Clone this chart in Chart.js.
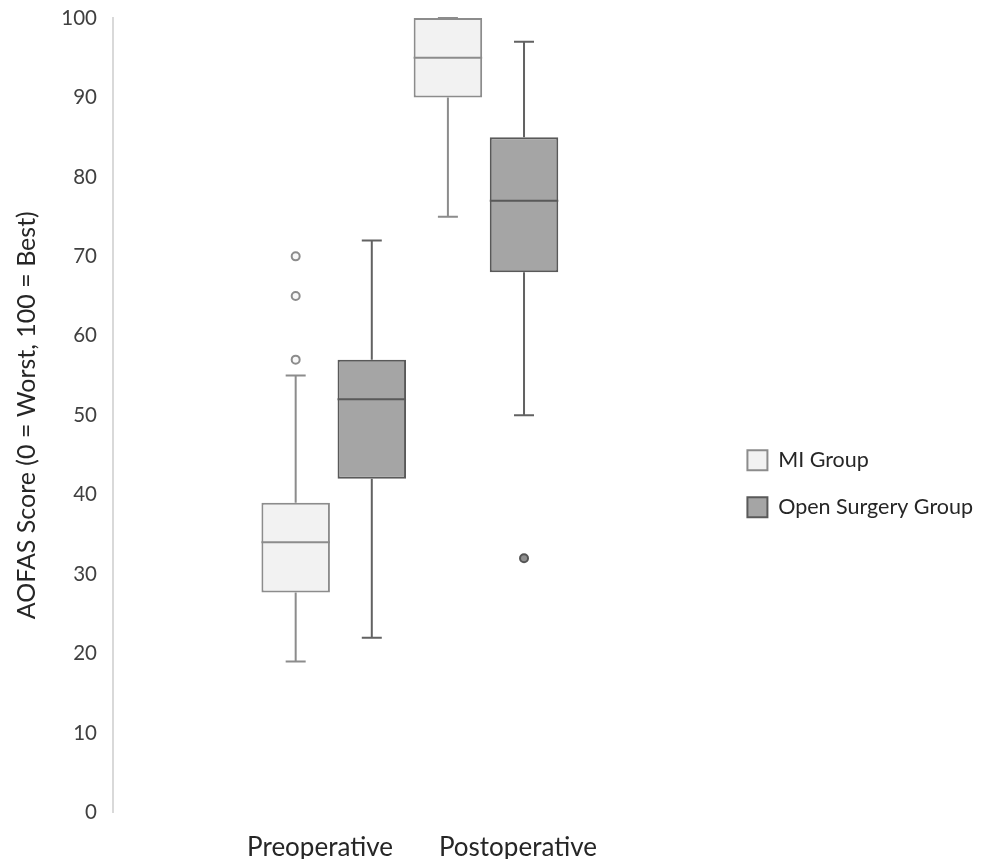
<!DOCTYPE html>
<html><head><meta charset="utf-8">
<script src="https://cdn.jsdelivr.net/npm/chart.js@4.4.1/dist/chart.umd.min.js"></script>
<style>html,body{margin:0;padding:0;background:#fff;}</style>
</head><body>
<canvas id="c" width="989" height="859"></canvas>
<script>
// ---- data ----
const categories = ['Preoperative', 'Postoperative'];
const seriesNames = ['MI Group', 'Open Surgery Group'];

const miMin      = [19, 75];
const miQ1       = [27.7, 90];
const miMedian   = [34, 95];
const miQ3       = [39, 100];
const miMax      = [55, 100];
const miOutliers = [[57, 65, 70], []];

const openMin      = [22, 50];
const openQ1       = [42, 68];
const openMedian   = [52, 77];
const openQ3       = [57, 85];
const openMax      = [72, 97];
const openOutliers = [[], [32]];

const yTickValues = [0, 10, 20, 30, 40, 50, 60, 70, 80, 90, 100];

// ---- styling ----
const FONT = 'Lato, "Open Sans", sans-serif';
const labelShift = [-0.09, 0.21];   // cosmetic shift of category labels
const nSeries = 2;
const groupOffset = k => (k + 0.5) / nSeries - 0.5;

function boxData(q1, q3) { return categories.map((c, i) => ({ x: i, y: [q1[i], q3[i]] })); }
function outlierData(list, k) {
  const pts = [];
  list.forEach((vals, i) => vals.forEach(v => pts.push({ x: i + groupOffset(k), y: v })));
  return pts;
}

const boxPlugin = {
  id: 'boxWhiskers',
  afterDatasetsDraw(chart) {
    const ys = chart.scales.y, ctx = chart.ctx;
    chart.data.datasets.forEach((ds, di) => {
      if (!ds.stats) return;
      const meta = chart.getDatasetMeta(di);
      meta.data.forEach((bar, i) => {
        const { x, width } = bar.getProps(['x', 'width'], true);
        const pMin = ys.getPixelForValue(ds.stats.min[i]);
        const pMax = ys.getPixelForValue(ds.stats.max[i]);
        const pMed = ys.getPixelForValue(ds.stats.med[i]);
        const pQ1 = ys.getPixelForValue(ds.data[i].y[0]);
        const pQ3 = ys.getPixelForValue(ds.data[i].y[1]);
        const cap = 10;
        ctx.save();
        ctx.strokeStyle = ds.whiskerColor;
        ctx.lineWidth = 2;
        ctx.beginPath();
        ctx.moveTo(x, pQ3); ctx.lineTo(x, pMax);
        ctx.moveTo(x - cap, pMax); ctx.lineTo(x + cap, pMax);
        ctx.moveTo(x, pQ1); ctx.lineTo(x, pMin);
        ctx.moveTo(x - cap, pMin); ctx.lineTo(x + cap, pMin);
        ctx.stroke();
        ctx.beginPath();
        ctx.strokeStyle = ds.borderColor;
        ctx.moveTo(x - width / 2, pMed); ctx.lineTo(x + width / 2, pMed);
        ctx.stroke();
        ctx.restore();
      });
    });
  }
};

new Chart(document.getElementById('c'), {
  type: 'bar',
  data: {
    datasets: [
      { label: seriesNames[0], data: boxData(miQ1, miQ3),
        stats: { min: miMin, med: miMedian, max: miMax },
        backgroundColor: '#f2f2f2', borderColor: '#8c8c8c', whiskerColor: '#8c8c8c',
        borderWidth: 2, borderSkipped: false,
        categoryPercentage: 1, barPercentage: 0.9 },
      { label: seriesNames[1], data: boxData(openQ1, openQ3),
        stats: { min: openMin, med: openMedian, max: openMax },
        backgroundColor: '#a5a5a5', borderColor: '#595959', whiskerColor: '#626262',
        borderWidth: 2, borderSkipped: false,
        categoryPercentage: 1, barPercentage: 0.9 },
      { type: 'scatter', label: seriesNames[0] + ' outliers', data: outlierData(miOutliers, 0),
        pointRadius: 4, pointBackgroundColor: '#f8f8f8', pointBorderColor: '#8c8c8c', pointBorderWidth: 2 },
      { type: 'scatter', label: seriesNames[1] + ' outliers', data: outlierData(openOutliers, 1),
        pointRadius: 4, pointBackgroundColor: '#8f8f8f', pointBorderColor: '#555555', pointBorderWidth: 2 }
    ]
  },
  options: {
    responsive: false,
    animation: false,
    events: [],
    layout: { padding: { left: 12, top: 18, right: 6, bottom: -23.5 } },
    plugins: {
      tooltip: { enabled: false },
      legend: {
        position: 'right',
        align: 'center',
        maxWidth: 320,
        title: { display: true, text: '', padding: { top: 52.6, bottom: 0 } },
        labels: {
          filter: item => item.datasetIndex < nSeries,
          boxWidth: 20, boxHeight: 20, padding: 25.5,
          color: '#262626',
          font: { family: FONT, size: 21.5 }
        }
      }
    },
    scales: {
      x: {
        type: 'linear',
        min: -1.45, max: 2.55,
        offset: false,
        grid: { display: false, drawTicks: false, offset: false },
        border: { display: false },
        afterBuildTicks: scale => { scale.ticks = categories.map((c, i) => ({ value: i + labelShift[i] })); },
        ticks: {
          autoSkip: false, maxRotation: 0, padding: 22,
          color: '#262626',
          font: { family: FONT, size: 26, lineHeight: 1 },
          callback: (v, idx) => categories[idx]
        }
      },
      y: {
        min: 0, max: 100,
        afterFit: scale => { scale.width = 101; scale.paddingTop = 10; scale.paddingBottom = 10; },
        afterBuildTicks: scale => { scale.ticks = yTickValues.map(v => ({ value: v })); },
        grid: { display: false, drawTicks: false },
        border: { display: true, color: '#d9d9d9', width: 2 },
        ticks: { padding: 16, color: '#404040', font: { family: FONT, size: 20.5 } },
        title: {
          display: true, text: 'AOFAS Score (0 = Worst, 100 = Best)',
          color: '#262626', padding: 0,
          font: { family: FONT, size: 25 }
        }
      }
    }
  },
  plugins: [boxPlugin]
});
</script>
</body></html>
